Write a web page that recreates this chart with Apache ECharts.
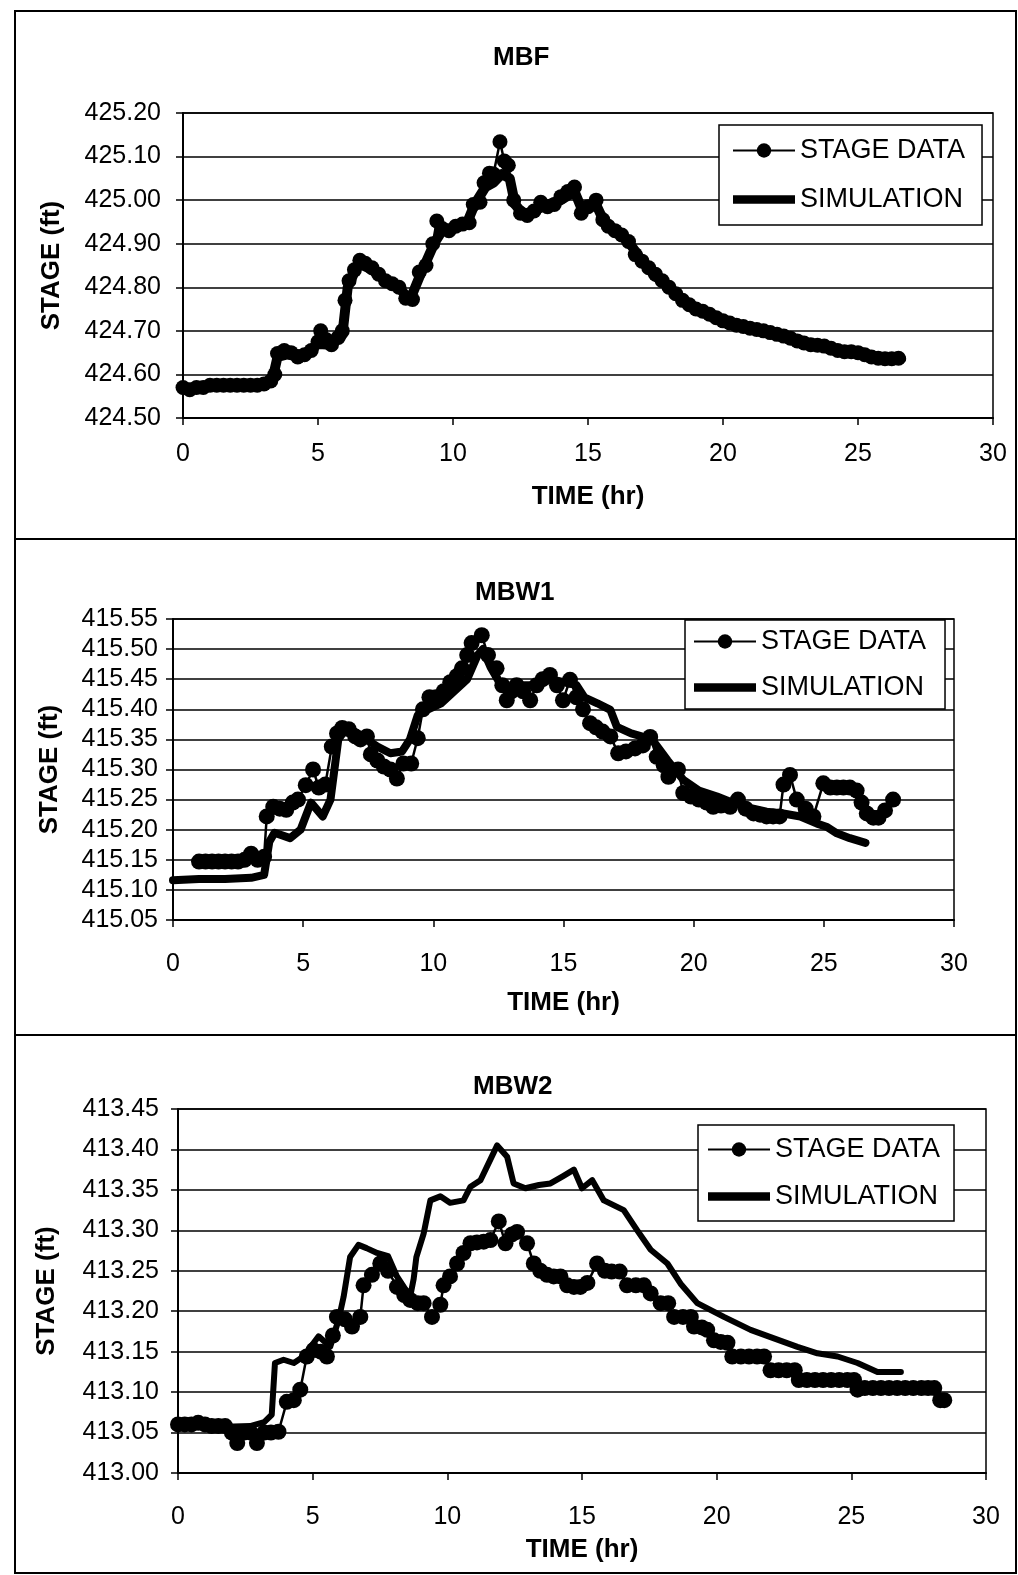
<!DOCTYPE html>
<html>
<head>
<meta charset="utf-8">
<script src="https://cdn.jsdelivr.net/npm/echarts@6/dist/echarts.min.js"></script>
<style>
  html, body { margin: 0; padding: 0; background: #fff; }
  #chart { width: 1018px; height: 1575px; }
</style>
</head>
<body>
<div id="chart"></div>
<script>
// ---- data: [time (hr), stage (ft)] ----
const mbfStage = [
  [0, 424.57], [0.25, 424.565], [0.5, 424.57], [0.75, 424.57], [1.0, 424.575], [1.25, 424.575],
  [1.5, 424.575], [1.75, 424.575], [2.0, 424.575], [2.25, 424.575], [2.5, 424.575], [2.75, 424.575],
  [3.0, 424.578], [3.25, 424.585], [3.4, 424.60], [3.5, 424.648], [3.75, 424.655], [4.0, 424.65],
  [4.25, 424.64], [4.5, 424.645], [4.75, 424.655], [5.0, 424.675], [5.1, 424.70], [5.3, 424.68],
  [5.5, 424.668], [5.75, 424.685], [5.9, 424.70], [6.0, 424.77], [6.15, 424.815], [6.35, 424.84],
  [6.55, 424.862], [6.75, 424.855], [7.0, 424.845], [7.25, 424.83], [7.5, 424.815], [7.75, 424.808],
  [8.0, 424.80], [8.25, 424.775], [8.5, 424.772], [8.75, 424.835], [9.0, 424.85], [9.25, 424.90],
  [9.4, 424.952], [9.6, 424.935], [9.85, 424.93], [10.1, 424.94], [10.35, 424.945], [10.6, 424.948],
  [10.75, 424.99], [11.0, 424.995], [11.15, 425.04], [11.35, 425.062], [11.5, 425.06], [11.74, 425.134],
  [11.9, 425.09], [12.05, 425.08], [12.25, 425.0], [12.5, 424.97], [12.75, 424.965], [13.0, 424.975],
  [13.25, 424.995], [13.5, 424.985], [13.75, 424.99], [14.0, 425.008], [14.25, 425.02], [14.5, 425.03],
  [14.75, 424.97], [15.0, 424.985], [15.3, 425.0], [15.55, 424.955], [15.75, 424.94], [16.0, 424.93],
  [16.25, 424.92], [16.5, 424.905], [16.75, 424.875], [17.0, 424.86], [17.25, 424.845], [17.5, 424.83],
  [17.75, 424.815], [18.0, 424.80], [18.25, 424.785], [18.5, 424.77], [18.75, 424.76], [19.0, 424.75],
  [19.25, 424.745], [19.5, 424.738], [19.75, 424.73], [20.0, 424.723], [20.25, 424.718], [20.5, 424.713],
  [20.75, 424.71], [21.0, 424.706], [21.25, 424.703], [21.5, 424.70], [21.75, 424.696], [22.0, 424.692],
  [22.25, 424.688], [22.5, 424.683], [22.75, 424.677], [23.0, 424.672], [23.25, 424.668], [23.5, 424.667],
  [23.75, 424.665], [24.0, 424.66], [24.25, 424.655], [24.5, 424.652], [24.75, 424.652], [25.0, 424.65],
  [25.25, 424.645], [25.5, 424.64], [25.75, 424.637], [26.0, 424.636], [26.25, 424.636], [26.5, 424.637]
]
const mbfSim = [
  [0, 424.565], [0.5, 424.568], [1, 424.572], [2, 424.575], [3, 424.577], [3.3, 424.585], [3.5, 424.64],
  [4, 424.648], [4.5, 424.645], [5, 424.67], [5.5, 424.668], [5.9, 424.69], [6.1, 424.80], [6.5, 424.855],
  [7, 424.84], [7.5, 424.815], [8, 424.80], [8.4, 424.77], [8.8, 424.83], [9.3, 424.90], [9.6, 424.93],
  [10, 424.935], [10.5, 424.945], [10.8, 424.99], [11.2, 425.03], [11.5, 425.04], [11.8, 425.06],
  [12.1, 425.05], [12.3, 424.99], [12.6, 424.968], [13, 424.975], [13.5, 424.99], [14, 425.0],
  [14.5, 425.02], [14.8, 424.975], [15.3, 424.99], [15.6, 424.95], [16, 424.93], [16.5, 424.905],
  [17, 424.86], [17.5, 424.825], [18, 424.80], [18.5, 424.77], [19, 424.75], [19.5, 424.735],
  [20, 424.722], [21, 424.706], [22, 424.692], [23, 424.672], [24, 424.66], [25, 424.65],
  [26, 424.637], [26.6, 424.636]
]

const mbw1Stage = [
  [1.0, 415.147], [1.25, 415.147], [1.5, 415.147], [1.75, 415.147], [2.0, 415.147], [2.25, 415.147],
  [2.5, 415.147], [2.75, 415.15], [3.0, 415.16], [3.25, 415.15], [3.5, 415.155], [3.6, 415.222],
  [3.85, 415.238], [4.1, 415.235], [4.35, 415.233], [4.6, 415.245], [4.8, 415.25], [5.1, 415.274],
  [5.38, 415.30], [5.6, 415.27], [5.85, 415.275], [6.1, 415.338], [6.3, 415.36], [6.5, 415.369],
  [6.75, 415.367], [7.0, 415.355], [7.2, 415.35], [7.45, 415.355], [7.6, 415.325], [7.85, 415.315],
  [8.1, 415.305], [8.35, 415.30], [8.6, 415.285], [8.85, 415.31], [9.15, 415.31], [9.4, 415.352],
  [9.6, 415.40], [9.85, 415.42], [10.1, 415.42], [10.4, 415.43], [10.65, 415.445], [10.9, 415.455],
  [11.1, 415.468], [11.3, 415.49], [11.47, 415.51], [11.86, 415.523], [12.1, 415.49], [12.43, 415.468],
  [12.65, 415.44], [12.82, 415.415], [13.0, 415.43], [13.2, 415.44], [13.45, 415.43], [13.72, 415.415],
  [13.97, 415.44], [14.2, 415.45], [14.48, 415.457], [14.75, 415.44], [14.98, 415.415], [15.25, 415.449],
  [15.5, 415.42], [15.75, 415.40], [16.02, 415.377], [16.25, 415.37], [16.5, 415.363], [16.8, 415.355],
  [17.1, 415.327], [17.4, 415.33], [17.75, 415.335], [18.05, 415.34], [18.33, 415.354], [18.58, 415.321],
  [18.85, 415.307], [19.03, 415.288], [19.4, 415.30], [19.6, 415.261], [19.9, 415.255], [20.2, 415.25],
  [20.5, 415.245], [20.75, 415.238], [21.05, 415.24], [21.4, 415.238], [21.7, 415.25], [22.0, 415.235],
  [22.3, 415.227], [22.55, 415.225], [22.8, 415.222], [23.05, 415.222], [23.3, 415.222], [23.45, 415.275],
  [23.7, 415.291], [23.96, 415.25], [24.3, 415.235], [24.6, 415.222], [24.98, 415.277], [25.25, 415.27],
  [25.5, 415.27], [25.75, 415.27], [26.0, 415.27], [26.26, 415.265], [26.45, 415.245], [26.65, 415.227],
  [26.9, 415.22], [27.1, 415.22], [27.35, 415.232], [27.66, 415.25]
]
const mbw1Sim = [
  [0, 415.116], [1, 415.118], [2, 415.118], [3, 415.12], [3.5, 415.125], [3.7, 415.18], [3.9, 415.195],
  [4.5, 415.186], [4.9, 415.20], [5.3, 415.245], [5.75, 415.222], [6.05, 415.25], [6.35, 415.35],
  [6.7, 415.371], [7.3, 415.354], [7.85, 415.338], [8.35, 415.327], [8.8, 415.33], [9.1, 415.35],
  [9.4, 415.39], [9.8, 415.40], [10.3, 415.41], [10.8, 415.43], [11.3, 415.45], [11.7, 415.49],
  [11.9, 415.50], [12.2, 415.47], [12.6, 415.44], [13.0, 415.43], [13.5, 415.44], [14.0, 415.44],
  [14.5, 415.45], [15.0, 415.445], [15.5, 415.44], [15.8, 415.42], [16.3, 415.41], [16.8, 415.399],
  [17.05, 415.371], [17.6, 415.36], [18.4, 415.35], [19.0, 415.315], [19.6, 415.283], [20.2, 415.265],
  [20.9, 415.255], [21.5, 415.245], [22.2, 415.236], [22.8, 415.23], [23.44, 415.227], [24.1, 415.222],
  [24.74, 415.21], [25.1, 415.205], [25.5, 415.194], [26.0, 415.186], [26.6, 415.178]
]

const mbw2Stage = [
  [0, 413.06], [0.25, 413.06], [0.5, 413.06], [0.75, 413.062], [1.0, 413.06], [1.25, 413.058],
  [1.5, 413.058], [1.75, 413.058], [2.0, 413.05], [2.2, 413.037], [2.45, 413.05], [2.7, 413.05],
  [2.93, 413.037], [3.2, 413.05], [3.45, 413.05], [3.73, 413.051], [4.04, 413.088], [4.3, 413.09],
  [4.54, 413.103], [4.78, 413.144], [5.03, 413.152], [5.3, 413.15], [5.53, 413.144], [5.75, 413.17],
  [5.9, 413.193], [6.2, 413.19], [6.46, 413.181], [6.77, 413.193], [6.89, 413.232], [7.2, 413.245],
  [7.51, 413.259], [7.8, 413.25], [8.13, 413.23], [8.4, 413.22], [8.62, 413.214], [8.9, 413.21],
  [9.12, 413.21], [9.43, 413.193], [9.74, 413.208], [9.86, 413.232], [10.1, 413.243], [10.36, 413.259],
  [10.6, 413.272], [10.86, 413.284], [11.1, 413.285], [11.35, 413.286], [11.6, 413.288], [11.91, 413.311],
  [12.16, 413.284], [12.4, 413.295], [12.59, 413.298], [12.96, 413.284], [13.21, 413.259], [13.45, 413.25],
  [13.7, 413.245], [13.95, 413.243], [14.2, 413.243], [14.45, 413.232], [14.7, 413.23], [14.94, 413.23],
  [15.2, 413.235], [15.56, 413.259], [15.85, 413.25], [16.1, 413.249], [16.4, 413.249], [16.67, 413.232],
  [17.0, 413.232], [17.3, 413.232], [17.55, 413.222], [17.92, 413.21], [18.2, 413.21], [18.42, 413.193],
  [18.75, 413.193], [19.04, 413.193], [19.16, 413.181], [19.45, 413.18], [19.65, 413.177], [19.9, 413.164],
  [20.15, 413.162], [20.4, 413.161], [20.58, 413.144], [20.9, 413.144], [21.2, 413.144], [21.5, 413.144],
  [21.76, 413.144], [22.0, 413.127], [22.3, 413.127], [22.6, 413.127], [22.9, 413.127], [23.05, 413.115],
  [23.35, 413.115], [23.65, 413.115], [23.95, 413.115], [24.25, 413.115], [24.55, 413.115], [24.85, 413.115],
  [25.1, 413.115], [25.23, 413.103], [25.5, 413.105], [25.8, 413.105], [26.1, 413.105], [26.4, 413.105],
  [26.7, 413.105], [27.0, 413.105], [27.3, 413.105], [27.6, 413.105], [27.85, 413.105], [28.08, 413.105],
  [28.3, 413.09], [28.45, 413.09]
]
const mbw2Sim = [
  [0, 413.059], [0.69, 413.062], [1.44, 413.057], [2.68, 413.058], [3.2, 413.063], [3.48, 413.072],
  [3.6, 413.136], [3.92, 413.14], [4.3, 413.136], [4.66, 413.144], [5.22, 413.169], [5.65, 413.156],
  [5.96, 413.189], [6.15, 413.218], [6.39, 413.267], [6.7, 413.282], [7.0, 413.278], [7.39, 413.272],
  [7.8, 413.268], [8.13, 413.243], [8.62, 413.218], [8.75, 413.24], [8.85, 413.267], [9.12, 413.296],
  [9.37, 413.337], [9.74, 413.342], [10.1, 413.334], [10.6, 413.337], [10.86, 413.354], [11.23, 413.362],
  [11.85, 413.405], [12.22, 413.391], [12.46, 413.358], [12.9, 413.352], [13.4, 413.356], [13.83, 413.358],
  [14.3, 413.367], [14.7, 413.375], [15.0, 413.352], [15.38, 413.362], [15.81, 413.337], [16.55, 413.325],
  [17.05, 413.30], [17.55, 413.276], [18.17, 413.259], [18.66, 413.234], [19.28, 413.21], [20.27, 413.193],
  [21.26, 413.177], [22.0, 413.168], [23.0, 413.156], [23.74, 413.148], [24.49, 413.144], [25.23, 413.136],
  [25.97, 413.125], [26.84, 413.125]
]

const panelTitles = ['MBF', 'MBW1', 'MBW2']
const yRanges = [[424.5, 425.2, 0.1], [415.05, 415.55, 0.05], [413.0, 413.45, 0.05]]
const xRange = [0, 30, 5]

const FONT = '"Liberation Sans", Arial, sans-serif'
const chart = echarts.init(document.getElementById('chart'))

// panel layout (px)
const grids = [
  { left: 183, top: 113, width: 810, height: 305 },
  { left: 173, top: 619, width: 781, height: 301 },
  { left: 178, top: 1109, width: 808, height: 364 }
]
const titlePos = [[493, 45], [475, 580], [473, 1074]]
const legendPos = [
  { left: 719, top: 125, padding: [12, 17, 12, 13], itemGap: 22 },
  { left: 685, top: 620, padding: [8, 19, 8, 8], itemGap: 19 },
  { left: 698, top: 1125, padding: [11, 14, 11, 9], itemGap: 20 }
]
const yNameGap = [118, 110, 118]
const xLabelMargin = [24, 32, 32]
const xNameGap = [66, 70, 64]
const yLabelMargin = [22, 15, 19]
const simWidth = [10, 8, 6]
const dotSize = [15, 16, 16]
const stageSets = [mbfStage, mbw1Stage, mbw2Stage]
const simSets = [mbfSim, mbw1Sim, mbw2Sim]

function initChart() {
  const option = {
    animation: false,
    backgroundColor: '#fff',
    title: panelTitles.map((t, i) => ({
      text: t,
      left: titlePos[i][0],
      top: titlePos[i][1],
      padding: 0,
      textStyle: { fontSize: 26, fontWeight: 'bold', color: '#000', fontFamily: FONT }
    })),
    legend: legendPos.map(p => ({
      left: p.left,
      top: p.top,
      orient: 'vertical',
      padding: p.padding,
      itemGap: p.itemGap,
      itemWidth: 62,
      itemHeight: 18,
      selectedMode: false,
      borderColor: '#000',
      borderWidth: 1.5,
      backgroundColor: '#fff',
      textStyle: { fontSize: 27, color: '#000', fontFamily: FONT },
      data: [
        { name: 'STAGE DATA' },
        { name: 'SIMULATION', icon: 'path://M0,0L60,0L60,8L0,8Z' }
      ]
    })),
    grid: grids.map(g => Object.assign({
      show: true, borderColor: '#000', borderWidth: 1.5, containLabel: false
    }, g)),
    xAxis: grids.map((g, i) => ({
      type: 'value',
      gridIndex: i,
      min: xRange[0], max: xRange[1], interval: xRange[2],
      name: 'TIME (hr)',
      nameLocation: 'middle',
      nameGap: xNameGap[i],
      nameTextStyle: { fontSize: 26, fontWeight: 'bold', color: '#000', fontFamily: FONT },
      axisLine: { onZero: false, lineStyle: { color: '#000', width: 2 } },
      axisTick: { show: true, length: 7, lineStyle: { color: '#000', width: 1.5 } },
      axisLabel: { fontSize: 25, color: '#000', fontFamily: FONT, margin: xLabelMargin[i] },
      splitLine: { show: false }
    })),
    yAxis: yRanges.map((r, i) => ({
      type: 'value',
      gridIndex: i,
      min: r[0], max: r[1], interval: r[2],
      name: 'STAGE (ft)',
      nameLocation: 'middle',
      nameGap: yNameGap[i],
      nameTextStyle: { fontSize: 26, fontWeight: 'bold', color: '#000', fontFamily: FONT },
      axisLine: { show: true, onZero: false, lineStyle: { color: '#000', width: 2 } },
      axisTick: { show: true, length: 7, lineStyle: { color: '#000', width: 1.5 } },
      axisLabel: {
        fontSize: 25, color: '#000', fontFamily: FONT, margin: yLabelMargin[i],
        formatter: v => v.toFixed(2)
      },
      splitLine: { show: true, lineStyle: { color: '#000', width: 1.5 } }
    })),
    series: [],
    graphic: [
      { type: 'rect', shape: { x: 15, y: 11, width: 1001, height: 528 }, style: { fill: 'none', stroke: '#000', lineWidth: 2 } },
      { type: 'rect', shape: { x: 15, y: 539, width: 1001, height: 496 }, style: { fill: 'none', stroke: '#000', lineWidth: 2 } },
      { type: 'rect', shape: { x: 15, y: 1035, width: 1001, height: 538 }, style: { fill: 'none', stroke: '#000', lineWidth: 2 } }
    ]
  }
  for (let i = 0; i < 3; i++) {
    option.series.push({
      name: 'SIMULATION',
      type: 'line',
      xAxisIndex: i, yAxisIndex: i,
      data: simSets[i],
      symbol: 'none',
      showSymbol: false,
      color: '#000',
      lineStyle: { color: '#000', width: simWidth[i], cap: 'round', join: 'round' },
      z: 2
    })
    option.series.push({
      name: 'STAGE DATA',
      type: 'line',
      xAxisIndex: i, yAxisIndex: i,
      data: stageSets[i],
      symbol: 'circle',
      symbolSize: dotSize[i],
      showSymbol: true,
      color: '#000',
      itemStyle: { color: '#000' },
      lineStyle: { color: '#000', width: 2.5 },
      z: 3
    })
  }
  chart.setOption(option)
}

initChart()
</script>
</body>
</html>
